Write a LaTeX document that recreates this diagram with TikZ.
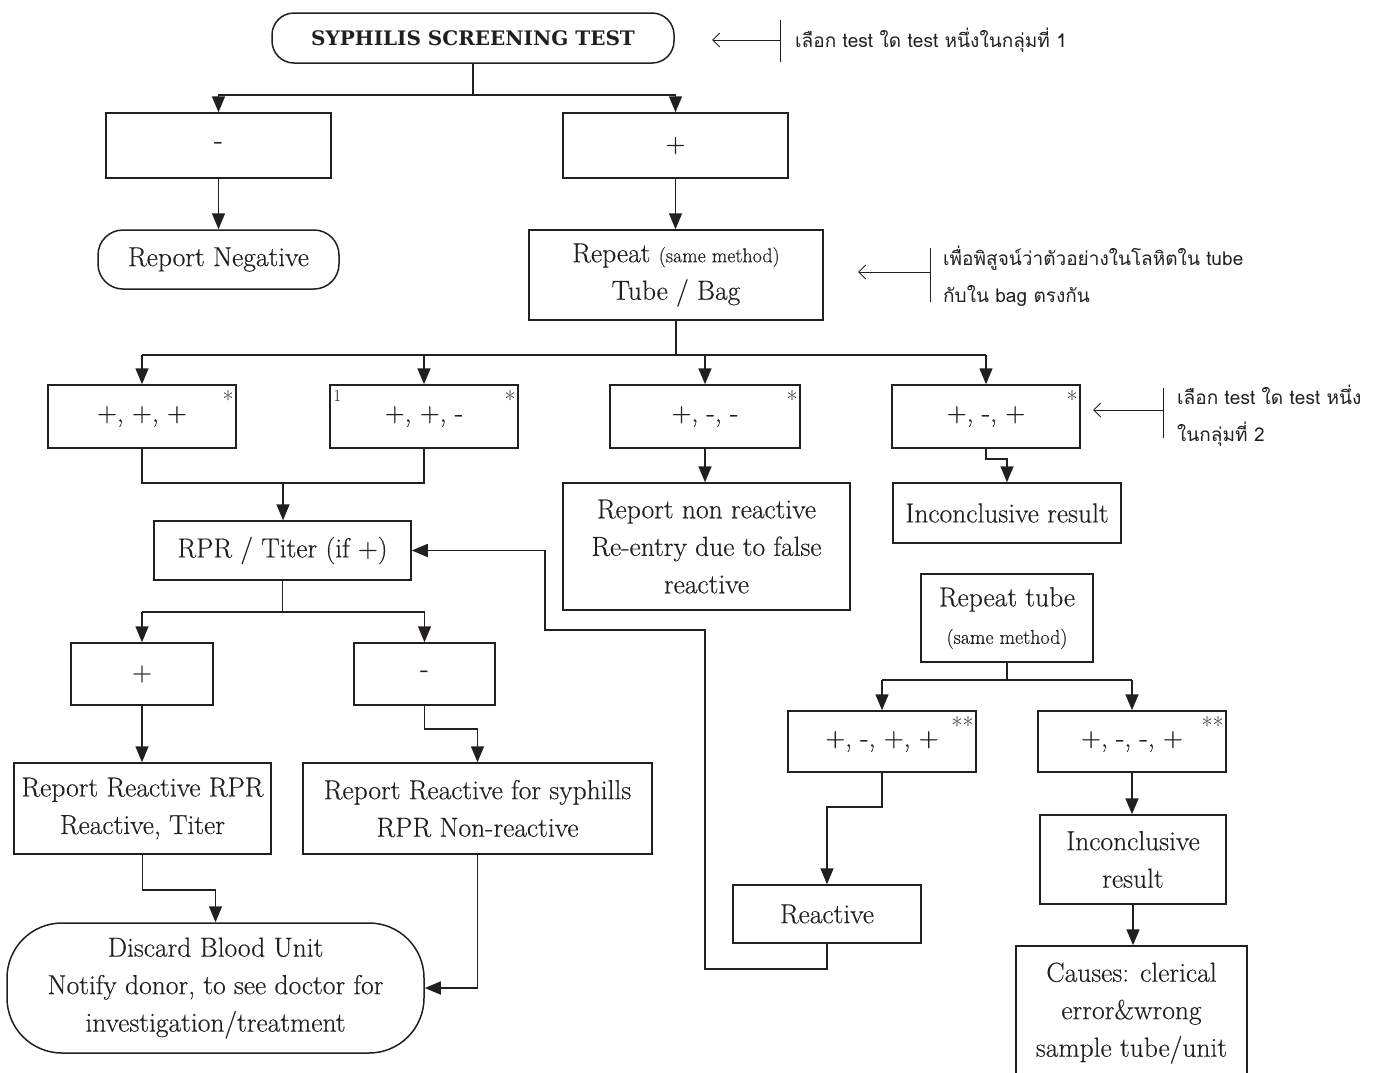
\documentclass[tikz,border=0pt]{standalone}
\usepackage{fontspec}
\newfontfamily\thaifont[Script=Thai]{Loma}
\newfontfamily\titlefont{DejaVu Serif}
\newfontfamily\bodyfont{Latin Modern Roman}[FakeBold=0.35]
\usetikzlibrary{arrows.meta}
\definecolor{ink}{HTML}{231F20}
\begin{document}
\begin{tikzpicture}[x=1pt,y=-1pt,
  bx/.style={draw=ink, line width=1.5pt, inner sep=0pt, align=center, text=ink,
    font=\bodyfont\fontsize{27.5}{37.5}\selectfont},
  rbx/.style={bx, rounded corners=#1},
  conn/.style={draw=ink, line width=1.6pt},
  arr/.style={conn, -{Triangle[length=16pt,width=13pt]}},
  ann/.style={anchor=west, align=left, inner sep=0pt, text=ink,
    font=\thaifont\fontsize{19}{37}\selectfont},
  annarr/.style={draw=ink, line width=0.9pt, -{Straight Barb[length=7pt,width=14pt]}},
  annbar/.style={draw=ink, line width=0.9pt},
  starmark/.style={anchor=north east, inner sep=0pt, text=ink, font=\fontsize{24}{24}\selectfont}
]
\useasboundingbox (0,0) rectangle (1381,1072);
\fill[white] (0,0) rectangle (1381,1072);

% ---- nodes ----
\node[rbx=22pt, minimum width=402, minimum height=50] (title) at (473,38)
  {\titlefont\bfseries\fontsize{20}{22}\selectfont SYPHILIS SCREENING TEST};
\node[bx, minimum width=225, minimum height=65] (neg) at (218.5,145.5) {-};
\node[bx, minimum width=225, minimum height=65] (pos) at (675.5,145.5) {+};
\node[rbx=25pt, minimum width=241, minimum height=59] (repneg) at (218.5,259.5) {Report Negative};
\node[bx, minimum width=294, minimum height=90] (rep) at (676,275)
  {Repeat {\fontsize{20}{20}\selectfont (same method)}\\Tube / Bag};

\node[bx, minimum width=188, minimum height=63] (r1) at (142,416.5) {+, +, +};
\node[bx, minimum width=188, minimum height=63] (r2) at (424,416.5) {+, +, -};
\node[bx, minimum width=190, minimum height=63] (r3) at (705,416.5) {+, -, -};
\node[bx, minimum width=188, minimum height=63] (r4) at (986,416.5) {+, -, +};
\node[starmark] (s1) at ([xshift=-3pt,yshift=-6pt]r1.north east) {*};
\node[starmark] (s2) at ([xshift=-3pt,yshift=-6pt]r2.north east) {*};
\node[starmark] (s3) at ([xshift=-3pt,yshift=-6pt]r3.north east) {*};
\node[starmark] (s4) at ([xshift=-3pt,yshift=-6pt]r4.north east) {*};
\node[starmark, anchor=north west, font=\fontsize{17}{17}\selectfont] (one) at ([xshift=4pt,yshift=-6pt]r2.north west) {1};

\node[bx, minimum width=257, minimum height=59] (rpr) at (282.5,550.5) {RPR / Titer (if +)};
\node[bx, minimum width=287, minimum height=127] (nonr) at (706.5,546.5)
  {Report non reactive\\Re-entry due to false\\reactive};
\node[bx, minimum width=228, minimum height=60] (inc1) at (1007,513) {Inconclusive result};

\node[bx, minimum width=142, minimum height=62] (p2) at (142,674) {+};
\node[bx, minimum width=141, minimum height=62] (m2) at (424.5,674) {-};
\node[bx, minimum width=257, minimum height=91] (rr1) at (142.5,808.5)
  {Report Reactive RPR\\Reactive, Titer};
\node[bx, minimum width=349, minimum height=91] (rr2) at (477.5,808.5)
  {Report Reactive for syphills\\RPR Non-reactive};
\node[rbx=55pt, minimum width=417, minimum height=130] (disc) at (215.5,988)
  {Discard Blood Unit\\Notify donor, to see doctor for\\investigation/treatment};

\node[bx, minimum width=172, minimum height=88] (rt) at (1007,618)
  {Repeat tube\\{\fontsize{20}{20}\selectfont (same method)}};
\node[bx, minimum width=188, minimum height=61] (t1) at (882,741.5) {+, -, +, +};
\node[bx, minimum width=188, minimum height=61] (t2) at (1132,741.5) {+, -, -, +};
\node[starmark] (s5) at ([xshift=-3pt,yshift=-6pt]t1.north east) {**};
\node[starmark] (s6) at ([xshift=-3pt,yshift=-6pt]t2.north east) {**};
\node[bx, minimum width=188, minimum height=58] (react) at (827,914) {Reactive};
\node[bx, minimum width=186, minimum height=89] (inc2) at (1133,859.5) {Inconclusive\\result};
\node[bx, minimum width=231, minimum height=134] (causes) at (1131.5,1013)
  {Causes: clerical\\error\&wrong\\sample tube/unit};

% ---- annotations ----
\node[ann] (a1) at (795,40) {เลือก test ใด test หนึ่งในกลุ่มที่ 1};
\node[ann] (a2) at (943,276.5) {เพื่อพิสูจน์ว่าตัวอย่างในโลหิตใน tube\\กับใน bag ตรงกัน};
\node[ann] (a3) at (1177,416) {เลือก test ใด test หนึ่ง\\ในกลุ่มที่ 2};
\coordinate (b1) at (780,40);  \coordinate (t1tip) at (712,40);
\coordinate (b2) at (930,272); \coordinate (t2tip) at (858,272);
\coordinate (b3) at (1163,410); \coordinate (t3tip) at (1093,410);
\draw[annbar] ([yshift=20pt]b1) -- ([yshift=-22pt]b1);
\draw[annarr] (b1) -- (t1tip);
\draw[annbar] ([yshift=24pt]b2) -- ([yshift=-30pt]b2);
\draw[annarr] (b2) -- (t2tip);
\draw[annbar] ([yshift=22pt]b3) -- ([yshift=-28pt]b3);
\draw[annarr] (b3) -- (t3tip);

% ---- connectors ----
\coordinate (j1) at (473,95);
\draw[conn] (title.south) -- (j1);
\draw[arr] (j1) -| (neg.north);
\draw[arr] (j1) -| (pos.north);
\draw[arr] (neg.south) -- (repneg.north);
\draw[arr] (pos.south) -- (pos.south |- rep.north);

\coordinate (j2) at (676,355);
\draw[conn] (rep.south) -- (j2);
\draw[conn] (r1.north |- j2) -- (r4.north |- j2);
\foreach \n in {r1,r2,r3,r4} \draw[arr] (\n.north |- j2) -- (\n.north);

\coordinate (j3) at (283,483);
\draw[conn] (r1.south) -- (r1.south |- j3) -- (r2.south |- j3) -- (r2.south);
\draw[arr] (j3) -- (j3 |- rpr.north);
\draw[arr] (r3.south) -- (r3.south |- nonr.north);
\draw[arr] (r4.south) -- ++(0,10) -| (inc1.north);

\coordinate (j4) at (283,612);
\draw[conn] (rpr.south) -- (rpr.south |- j4);
\draw[conn] (p2.north |- j4) -- (m2.north |- j4);
\draw[arr] (p2.north |- j4) -- (p2.north);
\draw[arr] (m2.north |- j4) -- (m2.north);
\draw[arr] (p2.south) -- (p2.south |- rr1.north);
\draw[arr] (m2.south) -- ++(0,23) -| (rr2.north);
\draw[arr] (rr1.south) -- ++(0,35) -| (disc.north);
\draw[arr] (rr2.south) |- (disc.east);

\coordinate (j5) at (1007,680);
\draw[conn] (rt.south) -- (j5);
\draw[conn] (t1.north |- j5) -- (t2.north |- j5);
\draw[arr] (t1.north |- j5) -- (t1.north);
\draw[arr] (t2.north |- j5) -- (t2.north);
\draw[arr] (t1.south) -- ++(0,34) -| (react.north);
\draw[arr] (t2.south) -- (t2.south |- inc2.north);
\draw[arr] (inc2.south) -- (inc2.south |- causes.north);

\coordinate (l1) at (705,969);
\coordinate (l2) at (545,630);
\draw[arr] (react.south) |- (l1) |- (l2) |- (rpr.east);
\end{tikzpicture}
\end{document}
